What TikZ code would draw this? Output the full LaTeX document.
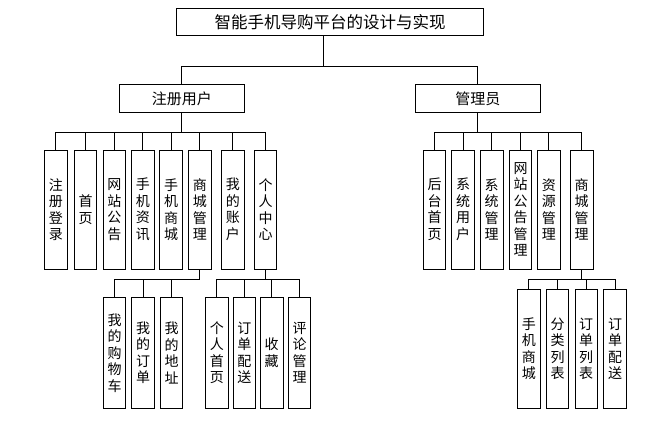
\documentclass[tikz,border=0pt]{standalone}
\usepackage{fontspec}
\setmainfont{Noto Sans CJK SC}
\usepackage{tikz}

\begin{document}
\begin{tikzpicture}[x=1pt,y=-1pt,line width=0.8pt,
        topbox/.style={draw,inner sep=0pt,minimum height=27.4pt,font=\fontsize{16.5}{18}\selectfont},
        midbox/.style={draw,inner sep=0pt,minimum width=124.5pt,minimum height=28.4pt,font=\fontsize{15}{17}\selectfont},
        colbox/.style={draw,inner sep=0pt,minimum width=22.4pt,minimum height=119pt,align=center,font=\fontsize{14}{16.5}\selectfont},
        lowbox/.style={colbox,minimum height=110.3pt}]
            \useasboundingbox (0,0) rectangle (672,428);

            \node[topbox,minimum width=306.6pt] (ROOT) at (330,22) {智能手机导购平台的设计与实现};
            \node[midbox] (USER) at (181.8,98.5) {注册用户};
            \node[midbox] (ADMIN) at (477.8,98.5) {管理员};

            % registered user
            \node[colbox] (U1) at (55.8,209.5) {注\\册\\登\\录};
            \node[colbox] (U2) at (85.5,209.5) {首\\页};
            \node[colbox] (U3) at (114.3,209.5) {网\\站\\公\\告};
            \node[colbox] (U4) at (142.8,209.5) {手\\机\\资\\讯};
            \node[colbox] (U5) at (171,209.5) {手\\机\\商\\城};
            \node[colbox] (U6) at (199.8,209.5) {商\\城\\管\\理};
            \node[colbox] (U7) at (232.8,209.5) {我\\的\\账\\户};
            \node[colbox] (U8) at (265.5,209.5) {个\\人\\中\\心};

            \node[lowbox] (UM1) at (114.5,352.8) {我\\的\\购\\物\\车};
            \node[lowbox] (UM2) at (143,352.8) {我\\的\\订\\单};
            \node[lowbox] (UM3) at (171.5,352.8) {我\\的\\地\\址};
            \node[lowbox] (UC1) at (216.8,352.8) {个\\人\\首\\页};
            \node[lowbox] (UC2) at (244.3,352.8) {订\\单\\配\\送};
            \node[lowbox] (UC3) at (271.7,352.8) {收\\藏};
            \node[lowbox] (UC4) at (299.5,352.8) {评\\论\\管\\理};

            % administrator
            \node[colbox] (A1) at (434.5,209.5) {后\\台\\首\\页};
            \node[colbox] (A2) at (463,209.5) {系\\统\\用\\户};
            \node[colbox] (A3) at (491.7,209.5) {系\\统\\管\\理};
            \node[colbox] (A4) at (520.5,209.5) {网\\站\\公\\告\\管\\理};
            \node[colbox] (A5) at (548.8,209.5) {资\\源\\管\\理};
            \node[colbox] (A6) at (581.7,209.5) {商\\城\\管\\理};

            \node[colbox] (AM1) at (528.8,348.8) {手\\机\\商\\城};
            \node[colbox] (AM2) at (557.5,348.8) {分\\类\\列\\表};
            \node[colbox] (AM3) at (586.2,348.8) {订\\单\\列\\表};
            \node[colbox] (AM4) at (615,348.8) {订\\单\\配\\送};

            \foreach \c in {USER,ADMIN}
                \draw ([xshift=-6.5pt]ROOT.south) -- ++(0,30) -| (\c.north);
            \foreach \c in {U1,U2,U3,U4,U5,U6,U7,U8}
                \draw (USER.south) -- ++(0,19) -| (\c.north);
            \foreach \c in {A1,A2,A3,A4,A5,A6}
                \draw (ADMIN.south) -- ++(0,19) -| (\c.north);
            \foreach \c in {UM1,UM2,UM3}
                \draw (U6.south) -- ++(0,9.5) -| (\c.north);
            \foreach \c in {UC1,UC2,UC3,UC4}
                \draw (U8.south) -- ++(0,9.5) -| (\c.north);
            \foreach \c in {AM1,AM2,AM3,AM4}
                \draw (A6.south) -- ++(0,10) -| (\c.north);
        \end{tikzpicture}
\end{document}
